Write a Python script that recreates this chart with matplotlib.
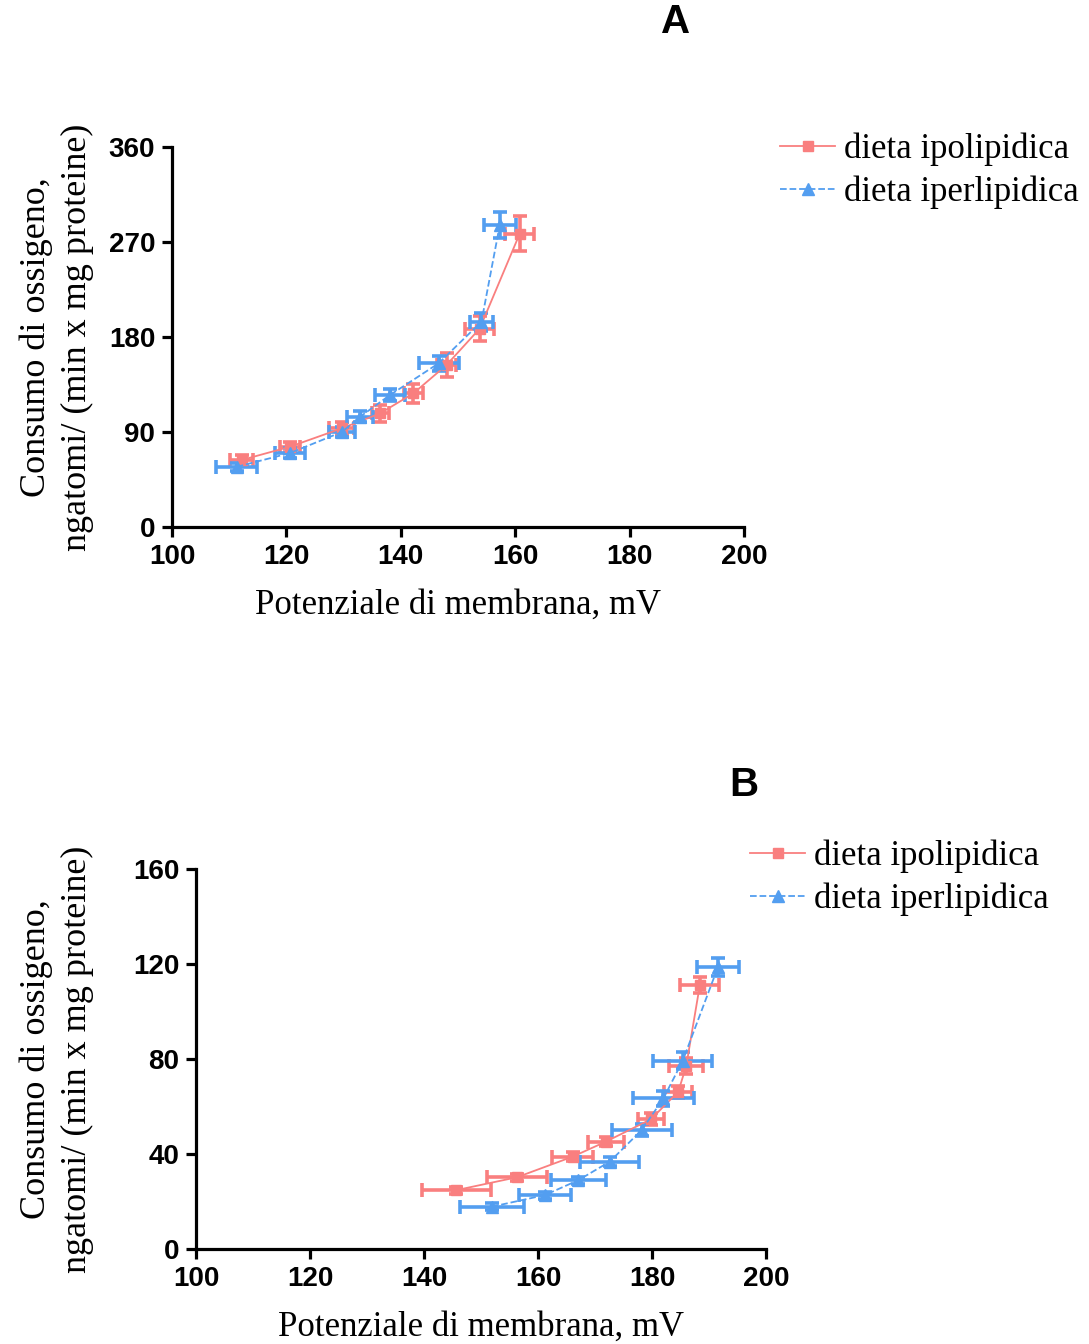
import numpy as np
import matplotlib
matplotlib.use("Agg")
import matplotlib.pyplot as plt

# panel A data (membrane potential mV, O2 consumption)
a_ipo_x = [112.2, 120.6, 129.7, 136.4, 142.2, 148.0, 153.8, 160.8]
a_ipo_xerr = [2.0, 1.7, 2.2, 1.5, 1.6, 1.6, 2.5, 2.5]
a_ipo_y = [63.5, 76, 93.5, 107.7, 126.6, 153.5, 188, 278]
a_ipo_yerr = [5, 5, 6, 8, 8.7, 11, 12, 16.6]

a_iper_x = [111.3, 120.6, 129.7, 132.9, 138.1, 146.6, 154.1, 157.3]
a_iper_xerr = [3.6, 2.6, 2.3, 2.3, 2.6, 3.5, 2.0, 2.8]
a_iper_y = [57, 70, 90, 104.5, 125, 155, 194.5, 286]
a_iper_yerr = [4, 5, 5, 5, 6, 7, 8.7, 12.6]

# panel B data
b_ipo_x = [145.7, 156.3, 166.1, 171.9, 179.8, 184.6, 186.0, 188.4]
b_ipo_xerr = [6.05, 5.2, 3.6, 3.1, 2.3, 2.5, 3.0, 3.4]
b_ipo_y = [24.8, 30.2, 38.9, 45.2, 54.6, 66.2, 77, 111.2]
b_ipo_yerr = [1.5, 1.5, 2, 2, 2.5, 2.6, 3.5, 3.2]

b_iper_x = [151.9, 161.2, 167.1, 172.6, 178.2, 182.0, 185.4, 191.6]
b_iper_xerr = [5.6, 4.6, 4.8, 5.2, 5.3, 5.4, 5.2, 3.7]
b_iper_y = [17.8, 22.7, 29, 36.8, 50.1, 63.4, 79.3, 118.9]
b_iper_yerr = [1.5, 1.5, 1.5, 2, 2.5, 3, 3.5, 3.8]

labels = ["dieta ipolipidica", "dieta iperlipidica"]
RED = "#F97F7F"
BLUE = "#539EF0"
serif = "Liberation Serif"
sans = "Liberation Sans"

fig = plt.figure(figsize=(10.89, 13.44), dpi=100)


def panel(rect, ipo, iper, yticks, title, title_xy, leg_xy):
    ax = fig.add_axes(rect)
    for (x, xe, y, ye), col, mk, ls, ms in [
        (ipo, RED, "s", "-", 7),
        (iper, BLUE, "^", "--", 9),
    ]:
        ax.errorbar(x, y, xerr=xe, yerr=ye, fmt="none", ecolor=col,
                    elinewidth=2.6, capsize=5, capthick=2.6, zorder=2)
        ax.plot(x, y, color=col, ls=ls, lw=1.3, marker=mk, ms=ms,
                mec=col, mfc=col, zorder=3)
    ax.set_xlim(100, 200)
    ax.set_xticks([100, 120, 140, 160, 180, 200])
    ax.set_ylim(yticks[0], yticks[-1])
    ax.set_yticks(yticks)
    for s in ["top", "right"]:
        ax.spines[s].set_visible(False)
    for s in ["left", "bottom"]:
        ax.spines[s].set_linewidth(2.3)
    ax.tick_params(width=2.3, length=7, direction="out", pad=5)
    for lab in ax.get_xticklabels() + ax.get_yticklabels():
        lab.set_fontfamily(sans)
        lab.set_fontweight("bold")
        lab.set_fontsize(20)
    ax.set_xlabel("Potenziale di membrana, mV", family=serif, fontsize=25,
                  labelpad=14)
    ax.set_ylabel("Consumo di ossigeno,\nngatomi/ (min x mg proteine)",
                  family=serif, fontsize=26, linespacing=1.3)
    # both panels put the y label at the same page position
    ax.yaxis.set_label_coords(94 / 1089, rect[1] + rect[3] / 2,
                              transform=fig.transFigure)
    fig.text(title_xy[0], title_xy[1], title, family=sans, weight="bold",
             fontsize=29, ha="center", va="center")
    h1, = ax.plot([], [], color=RED, ls="-", lw=1.3, marker="s", ms=7)
    h2, = ax.plot([], [], color=BLUE, ls="--", lw=1.3, marker="^", ms=9)
    fig.legend([h1, h2], labels, loc="upper left", bbox_to_anchor=leg_xy,
               frameon=False, prop={"family": serif, "size": 25},
               handlelength=1.6, handletextpad=0.25, labelspacing=0.27,
               borderaxespad=0)
    return ax


panel([172 / 1089, 1 - 527 / 1344, 572 / 1089, 380 / 1344],
      (a_ipo_x, a_ipo_xerr, a_ipo_y, a_ipo_yerr),
      (a_iper_x, a_iper_xerr, a_iper_y, a_iper_yerr),
      [0, 90, 180, 270, 360], "A", (676 / 1089, 1 - 22 / 1344),
      (766 / 1089, 1 - 119 / 1344))

panel([196 / 1089, 1 - 1249 / 1344, 570 / 1089, 380 / 1344],
      (b_ipo_x, b_ipo_xerr, b_ipo_y, b_ipo_yerr),
      (b_iper_x, b_iper_xerr, b_iper_y, b_iper_yerr),
      [0, 40, 80, 120, 160], "B", (744 / 1089, 1 - 785 / 1344),
      (736 / 1089, 1 - 826 / 1344))

fig.savefig("out.png", dpi=100)
